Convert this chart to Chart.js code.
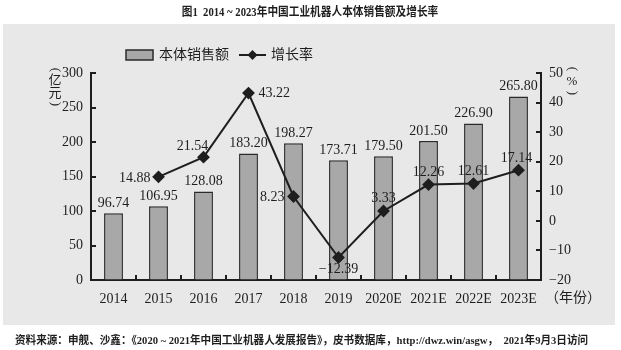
<!DOCTYPE html>
<html><head><meta charset="utf-8">
<script src="https://cdn.jsdelivr.net/npm/chart.js@4.4.0/dist/chart.umd.min.js"></script>
<style>html,body{margin:0;padding:0;background:#fff;}canvas{display:block;}</style>
</head><body>
<canvas id="c" width="621" height="350"></canvas>
<script>
const categories = ['2014','2015','2016','2017','2018','2019','2020E','2021E','2022E','2023E'];
const salesValues = [96.74,106.95,128.08,183.20,198.27,173.71,179.50,201.50,226.90,265.80];
const growthValues = [null,14.88,21.54,43.22,8.23,-12.39,3.33,12.26,12.61,17.14];
const salesLabel = '本体销售额';
const growthLabel = '增长率';
const leftTicks = [0,50,100,150,200,250,300];
const rightTicks = [-20,-10,0,10,20,30,40,50];
const titleText = '图1  2014 ~ 2023年中国工业机器人本体销售额及增长率';
const footerText = '资料来源：申舰、沙鑫：《2020 ~ 2021年中国工业机器人发展报告》，皮书数据库，http://dwz.win/asgw，  2021年9月3日访问';

const FONT = '"Liberation Serif","Noto Sans CJK SC",serif';
const INK = '#1e1e1e';
// label placement per growth point: [dx, dy, align]
const growthLabelPos = [null,[-8,1,'right'],[-11,-11,'center'],[10,0,'left'],[-9,1,'right'],[0,12,'center'],[0,-13,'center'],[0,-12,'center'],[0,-12,'center'],[-2,-12,'center']];

function compressedText(ctx, text, x, y, sx, align){
  const w = ctx.measureText(text).width * sx;
  let x0 = x;
  if(align==='center') x0 = x - w/2;
  ctx.save();
  ctx.textAlign='left';
  ctx.translate(x0,y); ctx.scale(sx,1);
  ctx.fillText(text,0,0);
  ctx.restore();
}
function rotParen(ctx, ch, x, y){
  ctx.save(); ctx.translate(x,y); ctx.rotate(Math.PI/2);
  ctx.textAlign='center'; ctx.textBaseline='middle';
  ctx.fillText(ch,0,0); ctx.restore();
}

const decor = {
  id:'decor',
  beforeDraw(chart){
    const ctx = chart.ctx;
    ctx.save();
    ctx.fillStyle='#fff'; ctx.fillRect(0,0,chart.width,chart.height);
    ctx.fillStyle='#e8e8e8'; ctx.fillRect(3,24,612,301);
    ctx.restore();
  },
  afterDraw(chart){
    const ctx = chart.ctx;
    const x = chart.scales.x, yl = chart.scales.y, yr = chart.scales.y1;
    ctx.save();
    // inward ticks
    ctx.strokeStyle=INK; ctx.lineWidth=2;
    leftTicks.forEach(v=>{const p=Math.round(yl.getPixelForValue(v));ctx.beginPath();ctx.moveTo(x.left,p);ctx.lineTo(x.left+5,p);ctx.stroke();});
    rightTicks.forEach(v=>{const p=Math.round(yr.getPixelForValue(v));ctx.beginPath();ctx.moveTo(x.right,p);ctx.lineTo(x.right-5,p);ctx.stroke();});
    for(let i=1;i<categories.length;i++){
      const p=Math.round((x.getPixelForValue(i-1)+x.getPixelForValue(i))/2);
      ctx.beginPath();ctx.moveTo(p,yl.bottom);ctx.lineTo(p,yl.bottom-5);ctx.stroke();
    }
    // bar labels
    ctx.fillStyle=INK; ctx.font='14px '+FONT; ctx.textAlign='center'; ctx.textBaseline='middle';
    chart.getDatasetMeta(0).data.forEach((el,i)=>{
      ctx.fillText(salesValues[i].toFixed(2), el.x, el.y-10);
    });
    // line labels
    chart.getDatasetMeta(1).data.forEach((el,i)=>{
      const v=growthValues[i]; if(v===null) return;
      const pos=growthLabelPos[i];
      ctx.textAlign=pos[2];
      ctx.fillText(v<0?'\u2212'+Math.abs(v).toFixed(2):v.toFixed(2), el.x+pos[0], el.y+pos[1]);
    });
    // title
    ctx.font='bold 12px '+FONT;
    compressedText(ctx, titleText, 310, 13, 0.89, 'center');
    // footer
    ctx.font='bold 11px '+FONT;
    compressedText(ctx, footerText, 15, 341, 0.963, 'left');
    // axis unit labels
    ctx.font='13px '+FONT; ctx.textAlign='center';
    rotParen(ctx,'(',55,70);
    ctx.fillText('亿',55,81);
    ctx.fillText('元',55,94);
    rotParen(ctx,')',55,104);
    rotParen(ctx,'(',572,69);
    ctx.fillText('%',572,82);
    rotParen(ctx,')',572,93);
    ctx.font='14px '+FONT;
    ctx.textAlign='left';
    ctx.fillText('（年份）', x.right+4, 298);
    // legend
    const ds0=chart.data.datasets[0], ds1=chart.data.datasets[1];
    ctx.fillStyle=ds0.backgroundColor; ctx.strokeStyle=ds0.borderColor; ctx.lineWidth=1.5;
    ctx.fillRect(126,50,27,10); ctx.strokeRect(126,50,27,10);
    ctx.fillStyle=INK; ctx.font='14px '+FONT; ctx.textBaseline='middle';
    ctx.fillText(ds0.label,159,55);
    ctx.strokeStyle=ds1.borderColor; ctx.lineWidth=2;
    ctx.beginPath();ctx.moveTo(239,55);ctx.lineTo(266,55);ctx.stroke();
    ctx.fillStyle=INK; ctx.beginPath();ctx.moveTo(252.5,50);ctx.lineTo(257.5,55);ctx.lineTo(252.5,60);ctx.lineTo(247.5,55);ctx.closePath();ctx.fill();
    ctx.fillText(ds1.label,271,55);
    ctx.restore();
  }
};

new Chart(document.getElementById('c'),{
  data:{
    labels:categories,
    datasets:[
      {type:'bar',label:salesLabel,data:salesValues,yAxisID:'y',backgroundColor:'#a8a8a8',borderColor:'#2a2a2a',borderWidth:1.5,categoryPercentage:1,barPercentage:0.42,order:2},
      {type:'line',label:growthLabel,data:growthValues,yAxisID:'y1',borderColor:INK,borderWidth:2,pointStyle:'rectRot',pointRadius:5,pointBackgroundColor:INK,pointBorderColor:INK,tension:0,spanGaps:false,order:1}
    ]
  },
  options:{
    responsive:false,animation:false,
    layout:{padding:{top:73,left:0,right:0,bottom:0}},
    plugins:{legend:{display:false},title:{display:false},tooltip:{enabled:false}},
    scales:{
      x:{offset:true,grid:{display:true,drawOnChartArea:false,drawTicks:false},border:{color:INK,width:2},
         ticks:{color:INK,font:{family:FONT,size:14},padding:11},
         afterFit(s){s.height=70;}},
      y:{position:'left',min:0,max:300,grid:{display:true,drawOnChartArea:false,drawTicks:false},border:{color:INK,width:2},
         ticks:{stepSize:50,color:INK,font:{family:FONT,size:14},padding:8},
         afterFit(s){s.width=91;}},
      y1:{position:'right',min:-20,max:50,grid:{display:true,drawOnChartArea:false,drawTicks:false},border:{color:INK,width:2},
         ticks:{stepSize:10,color:INK,font:{family:FONT,size:14},padding:8,callback:v=>v<0?'\u2212'+Math.abs(v):v},
         afterFit(s){s.width=80;}}
    }
  },
  plugins:[decor]
});
</script>
</body></html>
